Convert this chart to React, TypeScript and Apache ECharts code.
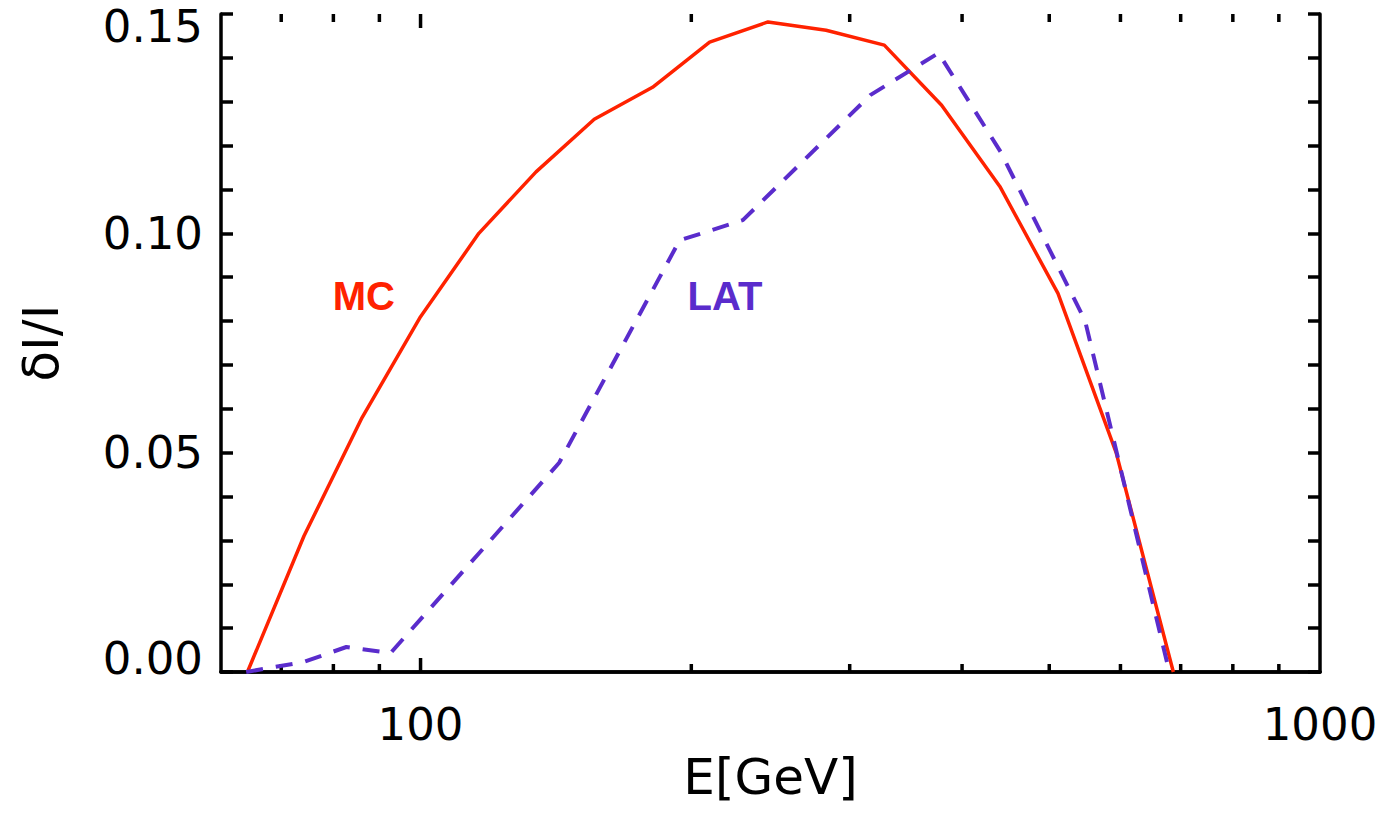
import React, { useEffect, useRef } from "react";
import * as echarts from "echarts";

// Energy [GeV] and δI/I for the MC curve (red, solid)
const E_MC = [64.2, 74.2, 86.1, 100, 116.1, 134.4, 156.0, 181.1, 209.6, 243.4, 282.4, 327.8, 379.6, 440.6, 511.3, 593.4, 687];
const MC = [0, 0.031, 0.058, 0.081, 0.1, 0.114, 0.126, 0.1333, 0.1436, 0.1482, 0.1463, 0.1429, 0.1292, 0.1107, 0.0863, 0.05, 0];

// Energy [GeV] and δI/I for the LAT curve (purple, dashed)
const E_LAT = [64, 74.2, 82.7, 92.6, 142.6, 194.1, 228.2, 316.2, 376.6, 441.7, 548, 680];
const LAT = [0, 0.0023, 0.0057, 0.0043, 0.0477, 0.0984, 0.103, 0.1315, 0.1411, 0.1185, 0.0801, 0];

// x-axis tick marks
const X_MAJOR_TICKS = [100];
const X_MINOR_TICKS = [70, 80, 90, 200, 300, 400, 500, 600, 700, 800, 900];
const X_LABELS = [100, 1000];

const FONT = "DejaVu Sans";
const RED = "#ff2200";
const PURPLE = "#5a2ccc";

export default function App() {
  const ref = useRef<HTMLDivElement>(null);

  useEffect(() => {
    if (!ref.current) return;
    const chart = echarts.init(ref.current, undefined, { renderer: "svg" });

    const tickData = [
      ...X_MAJOR_TICKS.map((v) => [v, 1]),
      ...X_MINOR_TICKS.map((v) => [v, 0]),
    ];

    const yLabelFmt = (v: number) => {
      const s = v.toFixed(2);
      if (Math.abs(v) < 1e-9) return "{lo|" + s + "}";
      if (Math.abs(v - 0.15) < 1e-9) return "{hi|" + s + "}";
      return "{n|" + s + "}";
    };
    const richBase = { fontFamily: FONT, fontSize: 45, color: "#000" };

    const yAxisCommon = {
      type: "value" as const,
      min: 0,
      max: 0.15,
      interval: 0.05,
      splitLine: { show: false },
      axisLine: { show: true, lineStyle: { color: "#000", width: 3.5 } },
      axisTick: { show: true, inside: true, length: 12, lineStyle: { color: "#000", width: 3.5 } },
      minorTick: { show: true, splitNumber: 5, length: 12, lineStyle: { color: "#000", width: 3.5 } },
      minorSplitLine: { show: false },
    };

    chart.setOption({
      animation: false,
      backgroundColor: "#fff",
      grid: { left: 221, top: 14, right: 64, bottom: 147, containLabel: false },
      xAxis: [
        {
          type: "log",
          logBase: 10,
          min: 60,
          max: 1000,
          position: "bottom",
          splitLine: { show: false },
          axisLine: { show: true, lineStyle: { color: "#000", width: 3.5 } },
          axisTick: { show: false },
          axisLabel: {
            show: true,
            margin: 30,
            fontFamily: FONT,
            fontSize: 45,
            color: "#000",
            formatter: (v: number) => {
              const r = Math.round(v);
              return X_LABELS.includes(r) && Math.abs(v - r) < 1e-6 * r ? String(r) : "";
            },
          },
          name: "E[GeV]",
          nameLocation: "middle",
          nameGap: 72,
          nameTextStyle: { fontFamily: FONT, fontSize: 50, color: "#000" },
        },
        {
          type: "log",
          logBase: 10,
          min: 60,
          max: 1000,
          position: "top",
          splitLine: { show: false },
          axisLine: { show: true, lineStyle: { color: "#000", width: 3.5 } },
          axisTick: { show: false },
          axisLabel: { show: false },
        },
      ],
      yAxis: [
        {
          ...yAxisCommon,
          position: "left",
          axisLabel: {
            show: true,
            margin: 18,
            formatter: yLabelFmt,
            rich: {
              n: { ...richBase },
              lo: { ...richBase, padding: [0, 0, 28, 0] },
              hi: { ...richBase, padding: [24, 0, 0, 0] },
            },
          },
          name: "δI/I",
          nameLocation: "middle",
          nameRotate: 90,
          nameGap: 155,
          nameTextStyle: { fontFamily: FONT, fontSize: 50, color: "#000" },
        },
        {
          ...yAxisCommon,
          position: "right",
          axisLabel: { show: false },
        },
      ],
      series: [
        {
          type: "line",
          name: "MC",
          xAxisIndex: 0,
          yAxisIndex: 0,
          data: E_MC.map((e, i) => [e, MC[i]]),
          symbol: "none",
          lineStyle: { color: RED, width: 3.5 },
          markPoint: {
            symbol: "circle",
            symbolSize: 0,
            label: {
              show: true,
              position: "inside",
              formatter: "MC",
              fontFamily: "Liberation Sans",
              fontWeight: "bold",
              fontSize: 40,
              color: RED,
            },
            data: [{ coord: [86.5, 0.0858] }],
          },
        },
        {
          type: "line",
          name: "LAT",
          xAxisIndex: 0,
          yAxisIndex: 0,
          data: E_LAT.map((e, i) => [e, LAT[i]]),
          symbol: "none",
          lineStyle: { color: PURPLE, width: 4, type: [17, 13] },
          markPoint: {
            symbol: "circle",
            symbolSize: 0,
            label: {
              show: true,
              position: "inside",
              formatter: "LAT",
              fontFamily: "Liberation Sans",
              fontWeight: "bold",
              fontSize: 40,
              color: PURPLE,
            },
            data: [{ coord: [218, 0.0858] }],
          },
        },
        {
          type: "custom",
          xAxisIndex: 0,
          yAxisIndex: 0,
          silent: true,
          clip: false,
          data: tickData,
          renderItem: (params: any, api: any) => {
            const v = api.value(0);
            const major = api.value(1) === 1;
            const p = api.coord([v, 0]);
            const cs = params.coordSys;
            const len = major ? 14 : 8;
            const style = { stroke: "#000", lineWidth: 3.5 };
            return {
              type: "group",
              children: [
                { type: "line", shape: { x1: p[0], y1: cs.y + cs.height, x2: p[0], y2: cs.y + cs.height - len }, style },
                { type: "line", shape: { x1: p[0], y1: cs.y, x2: p[0], y2: cs.y + len }, style },
              ],
            };
          },
        },
      ],
    });

    return () => chart.dispose();
  }, []);

  return <div ref={ref} style={{ width: 1384, height: 819, position: "absolute", left: 0, top: 0 }} />;
}
